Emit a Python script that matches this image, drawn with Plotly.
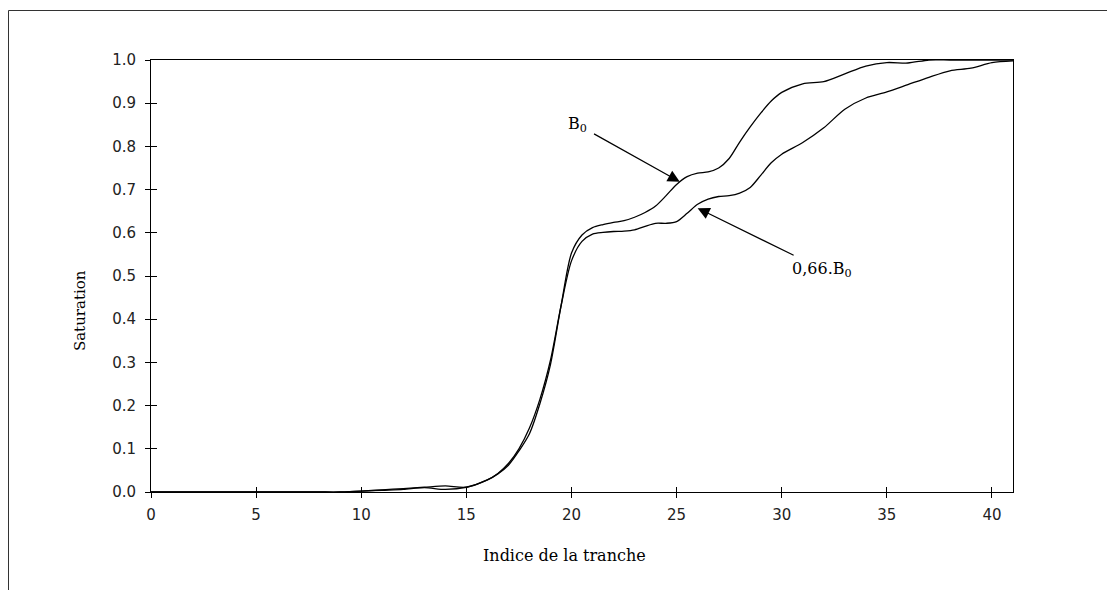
import plotly.graph_objects as go

# Slice index (x) shared by both series
indice = [0, 1, 2, 3, 4, 5, 6, 7, 8, 9, 10, 11, 12, 13, 14, 15, 16,
          16.5, 17, 17.5, 18, 18.5, 19, 19.5, 20, 20.5, 21, 21.5, 22, 22.5,
          23, 23.5, 24, 24.5, 25, 25.5, 26, 26.5, 27, 27.5, 28, 28.5, 29, 29.5,
          30, 31, 32, 33, 34, 35, 36, 37, 38, 39, 40, 41]

sat_b0 = [0, 0, 0, 0, 0, 0, 0, 0, 0, 0, 0.002, 0.005, 0.008, 0.011, 0.014, 0.011, 0.028,
          0.042, 0.062, 0.095, 0.135, 0.205, 0.295, 0.43, 0.553, 0.595, 0.612, 0.619, 0.624, 0.628,
          0.636, 0.647, 0.662, 0.686, 0.712, 0.73, 0.738, 0.741, 0.75, 0.772, 0.81, 0.845, 0.877, 0.905,
          0.925, 0.945, 0.95, 0.968, 0.986, 0.994, 0.993, 1.0, 1.0, 1.0, 1.0, 1.0]

sat_066b0 = [0, 0, 0, 0, 0, 0, 0, 0, 0, 0, 0.002, 0.004, 0.006, 0.010, 0.006, 0.011, 0.028,
             0.043, 0.066, 0.1, 0.148, 0.215, 0.305, 0.43, 0.535, 0.58, 0.597, 0.601, 0.603, 0.604,
             0.607, 0.615, 0.622, 0.622, 0.626, 0.645, 0.666, 0.678, 0.684, 0.686, 0.692, 0.705, 0.733, 0.762,
             0.782, 0.809, 0.843, 0.886, 0.912, 0.926, 0.943, 0.96, 0.975, 0.981, 0.994, 0.998]

x_ticks = [0, 5, 10, 15, 20, 25, 30, 35, 40]
y_ticks = [0.0, 0.1, 0.2, 0.3, 0.4, 0.5, 0.6, 0.7, 0.8, 0.9, 1.0]
x_range = [0, 41]
y_range = [0, 1.0]

x_title = "Indice de la tranche"
y_title = "Saturation"

serif = "DejaVu Serif"
sans = "DejaVu Sans"

fig = go.Figure()
for name, ys in [("B0", sat_b0), ("0,66.B0", sat_066b0)]:
    fig.add_trace(go.Scatter(x=indice, y=ys, mode="lines", name=name,
                             line=dict(color="black", width=1.3, shape="spline", smoothing=0.8),
                             showlegend=False, cliponaxis=False))

# invisible trace on overlay axes (for inward tick marks)
fig.add_trace(go.Scatter(x=[None], y=[None], xaxis="x2", yaxis="y2", showlegend=False,
                         hoverinfo="skip"))

axis_common = dict(showgrid=False, zeroline=False, linecolor="black", linewidth=1)

# The page body adds an 8px offset, so the figure is sized to fill the rest of the window.
fig.update_layout(
    width=1107, height=582,
    margin=dict(l=143, r=102, t=52, b=98),
    paper_bgcolor="white", plot_bgcolor="white",
    xaxis=dict(range=x_range, tickvals=x_ticks, ticks="outside", ticklen=5, tickcolor="black",
               showline=True, mirror=True, ticklabelstandoff=4,
               tickfont=dict(family=sans, size=15, color="#222"),
               **axis_common),
    yaxis=dict(range=y_range, tickvals=y_ticks, tickformat=".1f", ticks="outside", ticklen=5,
               tickcolor="black", showline=True, mirror=True, ticklabelstandoff=6,
               tickfont=dict(family=sans, size=15, color="#222"),
               **axis_common),
    xaxis2=dict(range=x_range, tickvals=x_ticks, ticks="inside", ticklen=5, tickcolor="black",
                overlaying="x", anchor="y", showticklabels=False, showline=False,
                showgrid=False, zeroline=False),
    yaxis2=dict(range=y_range, tickvals=y_ticks, ticks="inside", ticklen=6, tickcolor="black",
                overlaying="y", anchor="x", showticklabels=False, showline=False,
                showgrid=False, zeroline=False),
    shapes=[dict(type="rect", xref="paper", yref="paper", xsizemode="pixel", ysizemode="pixel",
                 xanchor=0, yanchor=1, x0=-142.5, x1=1000, y0=-700, y1=49.5,
                 line=dict(color="#333", width=1), fillcolor="rgba(0,0,0,0)", layer="below")],
    annotations=[
        # axis titles
        dict(x=0.48, y=-0.146, xref="paper", yref="paper", text=x_title, showarrow=False,
             xanchor="center", yanchor="middle",
             font=dict(family=serif, size=16, color="black")),
        dict(x=-0.0824, y=0.421, xref="paper", yref="paper", text=y_title, showarrow=False,
             textangle=-90, xanchor="center", yanchor="middle",
             font=dict(family=serif, size=15, color="black")),
        # curve labels with arrows (text sits at the arrow tail)
        dict(x=25.15, y=0.718, ax=20.3, ay=0.85, xref="x", yref="y", axref="x", ayref="y",
             text="B<sub>0</sub>", showarrow=True, arrowhead=2, arrowsize=2, arrowwidth=1.2,
             arrowcolor="black", startstandoff=6,
             font=dict(family=serif, size=16, color="black")),
        dict(x=26.0, y=0.657, ax=31.9, ay=0.516, xref="x", yref="y", axref="x", ayref="y",
             text="0,66.B<sub>0</sub>", showarrow=True, arrowhead=2, arrowsize=2, arrowwidth=1.2,
             arrowcolor="black", startstandoff=4,
             font=dict(family=serif, size=16, color="black")),
    ],
)

fig.write_html("out.html")
